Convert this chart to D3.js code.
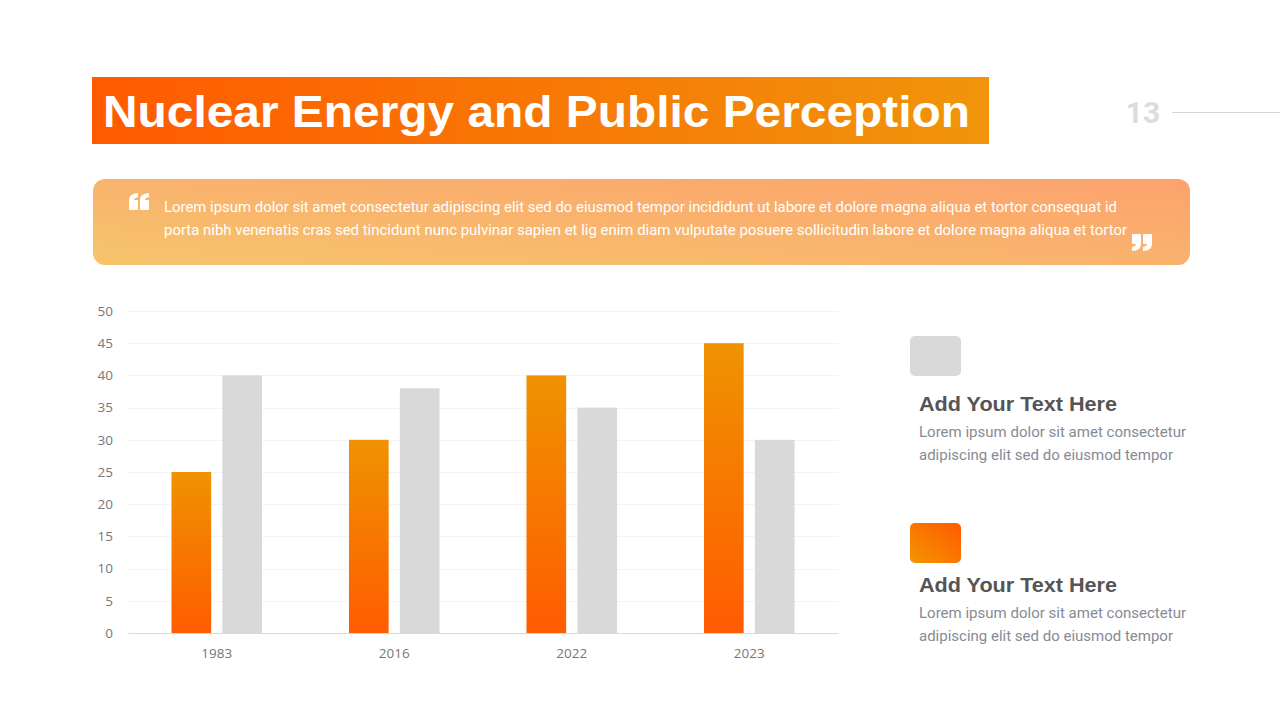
<!DOCTYPE html>
<html><head><meta charset="utf-8">
<script src="https://cdn.jsdelivr.net/npm/d3@7"></script>
<style>
html,body{margin:0;padding:0;background:#fff;}
svg{display:block;}
</style></head>
<body>
<svg id="chart" width="1280" height="720"></svg>
<script>
const categories = ["1983", "2016", "2022", "2023"];
const seriesOrange = [25, 30, 40, 45];
const seriesGray = [40, 38, 35, 30];
const yTicks = [0, 5, 10, 15, 20, 25, 30, 35, 40, 45, 50];
const titleText = "Nuclear Energy and Public Perception";
const quoteLines = [
  "Lorem ipsum dolor sit amet consectetur adipiscing elit sed do eiusmod tempor incididunt ut labore et dolore magna aliqua et tortor consequat id",
  "porta nibh venenatis cras sed tincidunt nunc pulvinar sapien et lig enim diam vulputate posuere sollicitudin labore et dolore magna aliqua et tortor"
];
const legendHeads = ["Add Your Text Here", "Add Your Text Here"];
const legendBody = ["Lorem ipsum dolor sit amet consectetur", "adipiscing elit sed do eiusmod tempor"];

const svg = d3.select("#chart");
const defs = svg.append("defs");

function lin(id, x1, y1, x2, y2, stops) {
  const g = defs.append("linearGradient").attr("id", id)
    .attr("x1", x1).attr("y1", y1).attr("x2", x2).attr("y2", y2);
  stops.forEach(s => g.append("stop").attr("offset", s[0]).attr("stop-color", s[1]));
}
lin("gTitle", "0", "0", "1", "0", [[0, "#FF5A00"], [1, "#F0950B"]]);
lin("gQuote", "0", "1", "1", "0", [[0, "#F6C46C"], [1, "#FCA26E"]]);
lin("gBar", "0", "0", "0", "1", [[0, "#EF9300"], [1, "#FF5C00"]]);
lin("gLeg", "0", "1", "1", "0", [[0, "#F39500"], [1, "#FF5A00"]]);

// Title
svg.append("rect").attr("x", 92).attr("y", 77).attr("width", 897).attr("height", 67).attr("fill", "url(#gTitle)");
svg.append("text").attr("x", 103).attr("y", 127).text(titleText)
  .attr("font-family", "'Liberation Sans', Arial, sans-serif").attr("font-weight", 700)
  .attr("font-size", 44).attr("fill", "#fff")
  .attr("textLength", 867).attr("lengthAdjust", "spacingAndGlyphs");

// page number
svg.append("text").attr("x", 1143).attr("y", 123).attr("text-anchor", "middle").text("13")
  .attr("font-family", "Roboto, sans-serif").attr("font-weight", 700).attr("font-size", 30).attr("fill", "#dcdcdc");
svg.append("line").attr("x1", 1172).attr("x2", 1280).attr("y1", 112.5).attr("y2", 112.5)
  .attr("stroke", "#d6d6d6").attr("stroke-width", 1);

// Quote box
svg.append("rect").attr("x", 93).attr("y", 179).attr("width", 1097).attr("height", 86).attr("rx", 12)
  .attr("fill", "url(#gQuote)");
const qLen = [953, 963];
quoteLines.forEach((t, i) => {
  svg.append("text").attr("x", 164).attr("y", 212 + i * 23).text(t)
    .attr("font-family", "Roboto, sans-serif").attr("font-size", 14.6).attr("fill", "#fff")
    .attr("textLength", qLen[i]).attr("lengthAdjust", "spacingAndGlyphs");
});
// quote glyphs (block commas)
const comma = "M1,17 Q0,17 0,16 L0,7 Q0,0.5 9,0 L9,4 Q5,5 5,7 L8,7 Q9,7 9,8 L9,16 Q9,17 8,17 Z";
function quoteMark(tx, ty, rotate) {
  const q = svg.append("g").attr("transform", `translate(${tx},${ty})` + (rotate ? " rotate(180 10 8.5)" : ""));
  q.append("path").attr("d", comma).attr("fill", "#fff");
  q.append("path").attr("d", comma).attr("transform", "translate(11,0)").attr("fill", "#fff");
}
quoteMark(129, 193, false);
quoteMark(1132, 234, true);

// Chart
const plot = { left: 128, right: 838, top: 311, bottom: 633 };
const y = d3.scaleLinear().domain([0, 50]).range([plot.bottom, plot.top]);
const x = d3.scaleBand().domain(categories).range([plot.left, plot.right]).paddingInner(0.49).paddingOuter(0.245);
const xs = d3.scaleBand().domain(["o", "g"]).range([0, x.bandwidth()]).paddingInner(0.22);

const g = svg.append("g");
// grid
g.selectAll(".grid").data(yTicks.filter(d => d > 0)).join("line")
  .attr("x1", plot.left).attr("x2", plot.right)
  .attr("y1", d => Math.round(y(d)) + 0.5).attr("y2", d => Math.round(y(d)) + 0.5)
  .attr("stroke", "#f4f4f4").attr("stroke-width", 1);

// y axis labels
const yAxis = d3.axisLeft(y).tickValues(yTicks).tickSize(0).tickPadding(0);
const ya = g.append("g").attr("transform", `translate(${plot.left - 15},0)`).call(yAxis);
ya.select(".domain").remove();
ya.selectAll("text").attr("font-family", "'Open Sans', 'Liberation Sans', sans-serif")
  .attr("font-size", 13.5).attr("fill", "#777");

// bars
const groups = g.selectAll(".grp").data(categories).join("g")
  .attr("transform", d => `translate(${x(d)},0)`);
groups.append("rect").attr("x", xs("o")).attr("width", xs.bandwidth())
  .attr("y", (d, i) => y(seriesOrange[i])).attr("height", (d, i) => y(0) - y(seriesOrange[i]))
  .attr("fill", "url(#gBar)");
groups.append("rect").attr("x", xs("g")).attr("width", xs.bandwidth())
  .attr("y", (d, i) => y(seriesGray[i])).attr("height", (d, i) => y(0) - y(seriesGray[i]))
  .attr("fill", "#D9D9D9");

// x axis
const xAxis = d3.axisBottom(x).tickSize(0).tickPadding(15);
const xa = g.append("g").attr("transform", `translate(0,${plot.bottom})`).call(xAxis);
xa.select(".domain").attr("stroke", "#d9d9d9");
xa.selectAll("text").attr("font-family", "'Open Sans', 'Liberation Sans', sans-serif")
  .attr("font-size", 13.5).attr("fill", "#777");

// Legend / side text
const legFills = ["#D9D9D9", "url(#gLeg)"];
const legTops = [336, 523];
const headBase = [411, 592];
legTops.forEach((top, i) => {
  svg.append("rect").attr("x", 910).attr("y", top).attr("width", 51).attr("height", 40).attr("rx", 5)
    .attr("fill", legFills[i]);
  svg.append("text").attr("x", 919).attr("y", headBase[i]).text(legendHeads[i])
    .attr("font-family", "'Liberation Sans', Arial, sans-serif").attr("font-weight", 700)
    .attr("font-size", 20).attr("fill", "#555")
    .attr("textLength", 198).attr("lengthAdjust", "spacingAndGlyphs");
  legendBody.forEach((t, j) => {
    svg.append("text").attr("x", 919).attr("y", headBase[i] + 26 + j * 23).text(t)
      .attr("font-family", "Roboto, sans-serif").attr("font-size", 14.8).attr("fill", "#868b95")
      .attr("textLength", j === 0 ? 267 : 254).attr("lengthAdjust", "spacingAndGlyphs");
  });
});
</script>
</body></html>
